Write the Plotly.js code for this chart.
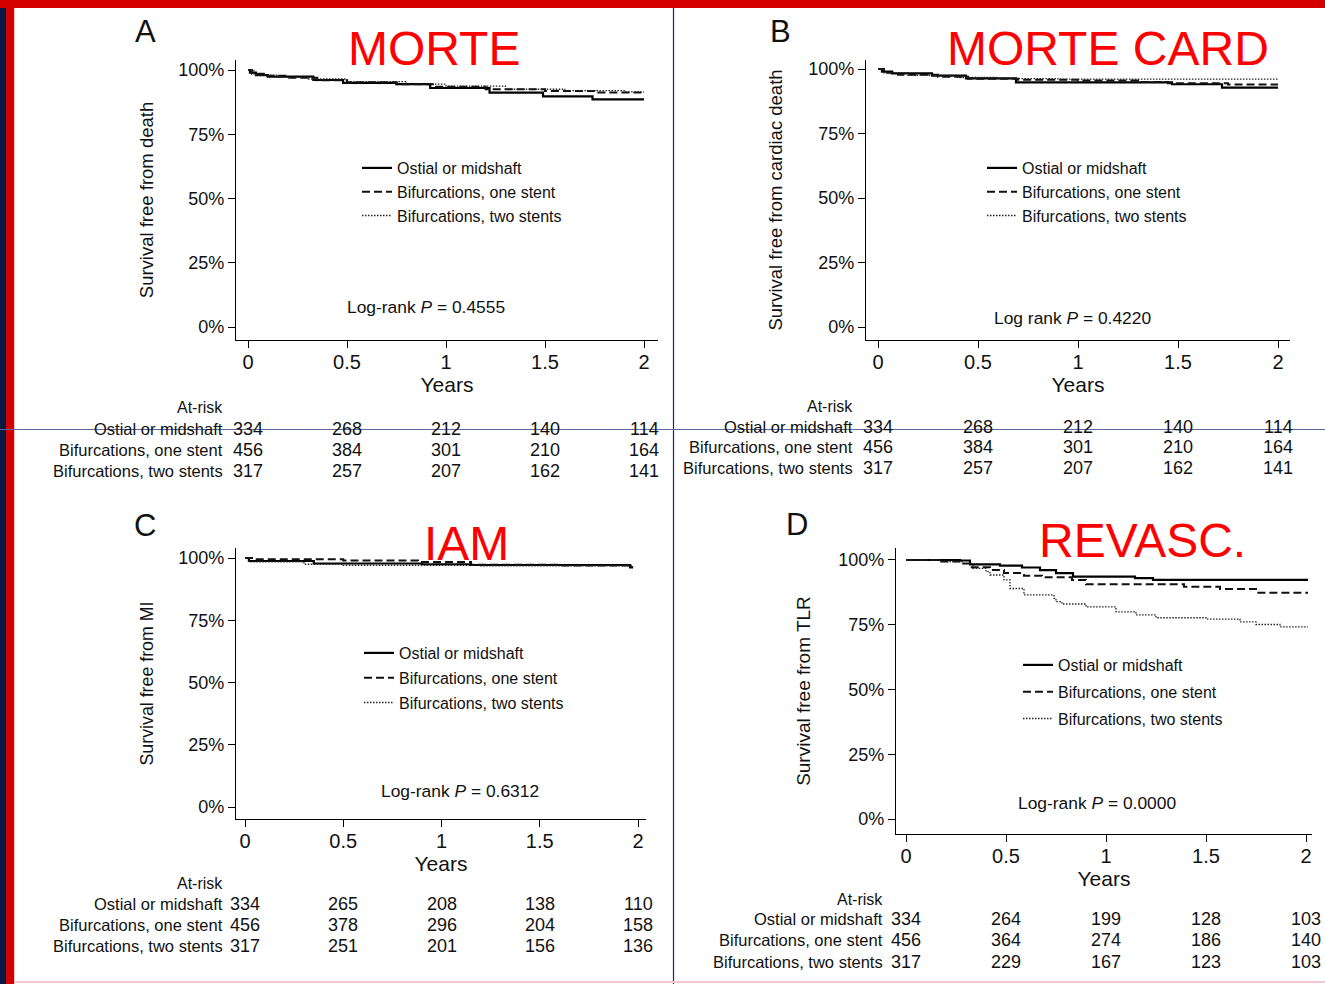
<!DOCTYPE html>
<html><head><meta charset="utf-8">
<script src="https://cdn.plot.ly/plotly-3.0.1.min.js"></script>
<style>html,body{margin:0;padding:0;background:#fff}#chart{width:1325px;height:984px}</style>
</head><body><div id="chart"></div>
<script>
// ---------- data ----------
const groups = ["Ostial or midshaft", "Bifurcations, one stent", "Bifurcations, two stents"];
const xTickVals = [0, 0.5, 1, 1.5, 2];
const xTickText = ["0", "0.5", "1", "1.5", "2"];
const yTickVals = [0, 0.25, 0.5, 0.75, 1];
const yTickText = ["0%", "25%", "50%", "75%", "100%"];
const atRiskYears = [0, 0.5, 1, 1.5, 2];

const panelLetters = ["A", "B", "C", "D"];
const panelTitles = ["MORTE", "MORTE CARD", "IAM", "REVASC."];
const yTitles = ["Survival free from death", "Survival free from cardiac death", "Survival free from MI", "Survival free from TLR"];
const logRankLabels = ["Log-rank", "Log rank", "Log-rank", "Log-rank"];
const logRankP = ["0.4555", "0.4220", "0.6312", "0.0000"];

// A: death
const deathOstialT = [0, 0.01, 0.04, 0.10, 0.33, 0.48, 0.75, 0.92, 1.22, 1.49, 1.74, 2.0];
const deathOstialS = [1, 0.99, 0.98, 0.974, 0.961, 0.95, 0.945, 0.93, 0.912, 0.897, 0.886, 0.886];
const deathOneT = [0, 0.02, 0.08, 0.20, 0.35, 0.50, 0.75, 0.95, 1.20, 1.50, 1.75, 2.0];
const deathOneS = [1, 0.985, 0.978, 0.97, 0.96, 0.952, 0.945, 0.935, 0.925, 0.918, 0.912, 0.91];
const deathTwoT = [0, 0.03, 0.15, 0.30, 0.50, 0.80, 1.00, 1.30, 1.60, 1.90, 2.0];
const deathTwoS = [1, 0.98, 0.972, 0.965, 0.955, 0.945, 0.937, 0.925, 0.92, 0.915, 0.915];

// B: cardiac death
const cardOstialT = [0, 0.02, 0.07, 0.27, 0.44, 0.69, 1.47, 1.72, 2.0];
const cardOstialS = [1, 0.99, 0.983, 0.974, 0.964, 0.948, 0.941, 0.928, 0.928];
const cardOneT = [0, 0.03, 0.10, 0.30, 0.45, 0.70, 1.00, 1.30, 1.45, 1.75, 2.0];
const cardOneS = [1, 0.985, 0.978, 0.97, 0.962, 0.958, 0.955, 0.95, 0.945, 0.94, 0.94];
const cardTwoT = [0, 0.03, 0.15, 0.40, 0.60, 0.90, 2.0];
const cardTwoS = [1, 0.985, 0.975, 0.967, 0.963, 0.961, 0.961];

// C: MI
const miOstialT = [0, 0.02, 0.35, 0.90, 1.15, 1.96, 1.975];
const miOstialS = [1, 0.988, 0.978, 0.975, 0.972, 0.962, 0.962];
const miOneT = [0, 0.05, 0.50, 0.88, 1.15, 1.60, 1.975];
const miOneS = [1, 0.995, 0.99, 0.984, 0.973, 0.97, 0.968];
const miTwoT = [0, 0.02, 0.30, 0.50, 1.20, 1.975];
const miTwoS = [1, 0.985, 0.975, 0.971, 0.969, 0.967];

// D: TLR
const tlrOstialT = [0, 0.27, 0.32, 0.47, 0.58, 0.67, 0.75, 0.835, 1.145, 1.235, 2.01];
const tlrOstialS = [1, 0.998, 0.983, 0.978, 0.971, 0.961, 0.949, 0.936, 0.930, 0.923, 0.923];
const tlrOneT = [0, 0.17, 0.28, 0.32, 0.42, 0.49, 0.59, 0.68, 0.83, 0.90, 1.39, 1.57, 1.75, 2.01];
const tlrOneS = [1, 0.994, 0.986, 0.972, 0.961, 0.95, 0.939, 0.933, 0.923, 0.906, 0.897, 0.888, 0.874, 0.874];
const tlrTwoT = [0, 0.17, 0.28, 0.335, 0.40, 0.42, 0.49, 0.52, 0.59, 0.74, 0.75, 0.78, 0.90, 1.05, 1.15, 1.25, 1.50, 1.67, 1.75, 1.87, 2.01];
const tlrTwoS = [1, 0.994, 0.986, 0.968, 0.955, 0.942, 0.923, 0.89, 0.865, 0.852, 0.839, 0.83, 0.819, 0.80, 0.788, 0.777, 0.772, 0.761, 0.751, 0.742, 0.742];

// numbers at risk
const riskDeathOstial = [334, 268, 212, 140, 114];
const riskDeathOne = [456, 384, 301, 210, 164];
const riskDeathTwo = [317, 257, 207, 162, 141];
const riskCardOstial = [334, 268, 212, 140, 114];
const riskCardOne = [456, 384, 301, 210, 164];
const riskCardTwo = [317, 257, 207, 162, 141];
const riskMiOstial = [334, 265, 208, 138, 110];
const riskMiOne = [456, 378, 296, 204, 158];
const riskMiTwo = [317, 251, 201, 156, 136];
const riskTlrOstial = [334, 264, 199, 128, 103];
const riskTlrOne = [456, 364, 274, 186, 140];
const riskTlrTwo = [317, 229, 167, 123, 103];

// ---------- layout helpers ----------
const W = 1325, H = 984;
const FONT = "Liberation Sans, Arial, Helvetica, sans-serif";
const px = v => v / W;
const py = v => 1 - v / H;

const panels = [
  {x0: 236, x1: 658, y0: 60, y1: 340, xr: [-0.0606, 2.0707], yr: [-0.0506, 1.0389],
   curves: [[deathOstialT, deathOstialS], [deathOneT, deathOneS], [deathTwoT, deathTwoS]],
   risk: [riskDeathOstial, riskDeathOne, riskDeathTwo],
   leg: [357, 151], legGap: 0, letter: [145, 32], title: [434, 48], logrank: [426, 307],
   riskLabelX: 225, riskRows: [408, 429, 450, 471], ytitleStand: 19, ytitleSize: 18.5},
  {x0: 866, x1: 1290, y0: 60, y1: 340, xr: [-0.06, 2.06], yr: [-0.0504, 1.0349],
   curves: [[cardOstialT, cardOstialS], [cardOneT, cardOneS], [cardTwoT, cardTwoS]],
   risk: [riskCardOstial, riskCardOne, riskCardTwo],
   leg: [982, 151], legGap: 0, letter: [780, 32], title: [1108, 48], logrank: [1072, 318],
   riskLabelX: 855, riskRows: [406, 427, 447, 468], ytitleStand: 20, ytitleSize: 18.5},
  {x0: 236, x1: 646, y0: 548, y1: 819, xr: [-0.0458, 2.0407], yr: [-0.0482, 1.0402],
   curves: [[miOstialT, miOstialS], [miOneT, miOneS], [miTwoT, miTwoS]],
   risk: [riskMiOstial, riskMiOne, riskMiTwo],
   leg: [359, 636], legGap: 1, letter: [145, 525], title: [466, 543], logrank: [460, 791],
   riskLabelX: 225, riskRows: [883, 904, 925, 946], ytitleStand: 19, ytitleSize: 17.8},
  {x0: 896, x1: 1312, y0: 548, y1: 834, xr: [-0.05, 2.03], yr: [-0.0579, 1.0463],
   curves: [[tlrOstialT, tlrOstialS], [tlrOneT, tlrOneS], [tlrTwoT, tlrTwoS]],
   risk: [riskTlrOstial, riskTlrOne, riskTlrTwo],
   leg: [1018, 648], legGap: 3, letter: [797, 524], title: [1142, 540], logrank: [1097, 803],
   riskLabelX: 885, riskRows: [899, 919, 940, 962], ytitleStand: 22, ytitleSize: 19}
];

const lineStyles = [
  {color: "#000", width: 2.2, dash: "solid"},
  {color: "#111", width: 2, dash: "8px,4px"},
  {color: "#222", width: 1.3, dash: "1.5px,1.5px"}
];

const traces = [];
const layout = {
  width: W, height: H,
  margin: {l: 0, r: 0, t: 0, b: 0},
  paper_bgcolor: "#fff", plot_bgcolor: "rgba(0,0,0,0)",
  font: {family: FONT, color: "#111"},
  showlegend: true,
  annotations: [], shapes: []
};

panels.forEach((p, i) => {
  const n = i === 0 ? "" : String(i + 1);
  const xa = "x" + n, ya = "y" + n;
  const legName = "legend" + n;
  p.curves.forEach((c, g) => {
    traces.push({
      type: "scatter", mode: "lines", x: c[0], y: c[1],
      xaxis: xa, yaxis: ya, name: groups[g], legend: legName,
      legendgroup: "p" + i + "g" + g,
      line: Object.assign({shape: "hv"}, lineStyles[g]),
      hoverinfo: "x+y+name"
    });
  });
  layout["xaxis" + n] = {
    domain: [px(p.x0), px(p.x1)], range: p.xr, anchor: ya,
    showgrid: false, zeroline: false, showline: true, linecolor: "#000", linewidth: 1.3,
    ticks: "outside", ticklen: 7, tickwidth: 1.3, tickcolor: "#000",
    ticklabelstandoff: -3,
    tickvals: xTickVals, ticktext: xTickText,
    tickfont: {size: 20, family: FONT, color: "#111"},
    title: {text: "Years", font: {size: 21, family: FONT, color: "#111"}, standoff: 0}
  };
  layout["yaxis" + n] = {
    domain: [py(p.y1), py(p.y0)], range: p.yr, anchor: xa,
    showgrid: false, zeroline: false, showline: true, linecolor: "#000", linewidth: 1.3,
    ticks: "outside", ticklen: 7, tickwidth: 1.3, tickcolor: "#000",
    tickvals: yTickVals, ticktext: yTickText,
    tickfont: {size: 18, family: FONT, color: "#111"},
    title: {text: yTitles[i], font: {size: p.ytitleSize, family: FONT, color: "#111"}, standoff: p.ytitleStand}
  };
  layout[legName] = {
    x: px(p.leg[0]), y: py(p.leg[1]), xanchor: "left", yanchor: "top",
    bgcolor: "rgba(0,0,0,0)", borderwidth: 0,
    font: {size: 16, family: FONT, color: "#111"}, tracegroupgap: p.legGap
  };
  layout.annotations.push({xref: "paper", yref: "paper", x: px(p.letter[0]), y: py(p.letter[1]),
    text: panelLetters[i], showarrow: false, xanchor: "center", yanchor: "middle",
    font: {size: 31, family: FONT, color: "#111"}});
  layout.annotations.push({xref: "paper", yref: "paper", x: px(p.title[0]), y: py(p.title[1]),
    text: panelTitles[i], showarrow: false, xanchor: "center", yanchor: "middle",
    font: {size: 48, family: FONT, color: "#ff0000"}});
  layout.annotations.push({xref: "paper", yref: "paper", x: px(p.logrank[0]), y: py(p.logrank[1]),
    text: logRankLabels[i] + " <i>P</i> = " + logRankP[i], showarrow: false, xanchor: "center", yanchor: "middle",
    font: {size: 17.4, family: FONT, color: "#111"}});
  layout.annotations.push({xref: "paper", yref: "paper", x: px(p.riskLabelX), y: py(p.riskRows[0]),
    text: "At-risk", showarrow: false, xanchor: "right", yanchor: "middle",
    font: {size: 16, family: FONT, color: "#111"}});
  groups.forEach((gname, g) => {
    layout.annotations.push({xref: "paper", yref: "paper", x: px(p.riskLabelX), y: py(p.riskRows[g + 1]),
      text: gname, showarrow: false, xanchor: "right", yanchor: "middle",
      font: {size: 16.5, family: FONT, color: "#111"}});
    p.risk[g].forEach((v, k) => {
      layout.annotations.push({xref: xa, yref: "paper", x: atRiskYears[k], y: py(p.riskRows[g + 1]),
        text: String(v), showarrow: false, xanchor: "center", yanchor: "middle",
        font: {size: 18, family: FONT, color: "#111"}});
    });
  });
});

layout.shapes.push(
  {type: "rect", xref: "paper", yref: "paper", x0: 0, x1: px(6), y0: 0, y1: 1, fillcolor: "#0a1a45", line: {width: 0}, layer: "above"},
  {type: "rect", xref: "paper", yref: "paper", x0: px(6), x1: px(14), y0: 0, y1: 1, fillcolor: "#d40000", line: {width: 0}, layer: "above"},
  {type: "rect", xref: "paper", yref: "paper", x0: 0, x1: 1, y0: py(8), y1: 1, fillcolor: "#d40000", line: {width: 0}, layer: "above"},
  {type: "line", xref: "paper", yref: "paper", x0: px(14.5), x1: px(14.5), y0: 0, y1: py(8), line: {color: "#f3c6cc", width: 1}, layer: "above"},
  {type: "line", xref: "paper", yref: "paper", x0: px(673.5), x1: px(673.5), y0: 0, y1: py(8), line: {color: "#1c2a6a", width: 1.2}, layer: "above"},
  {type: "line", xref: "paper", yref: "paper", x0: 0, x1: 1, y0: py(429.5), y1: py(429.5), line: {color: "#5a6a9a", width: 1}, layer: "above"},
  {type: "line", xref: "paper", yref: "paper", x0: px(14), x1: 1, y0: py(982), y1: py(982), line: {color: "#f3c6cc", width: 2}, layer: "above"}
);

Plotly.newPlot("chart", traces, layout, {displayModeBar: false, responsive: false});
</script>
</body></html>
